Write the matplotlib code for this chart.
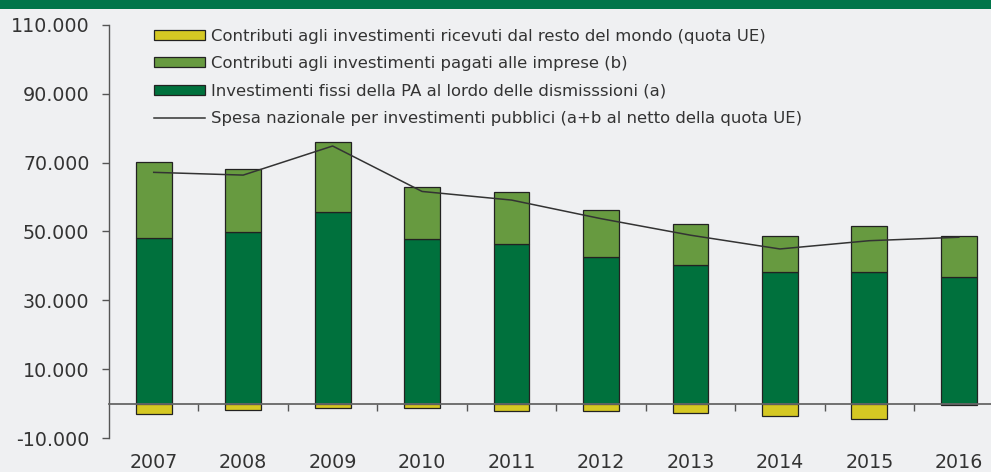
import numpy as np
import matplotlib
matplotlib.use("Agg")
import matplotlib.pyplot as plt
from matplotlib.patches import Rectangle, Patch
from matplotlib.lines import Line2D
import matplotlib.transforms as mtransforms

years = ["2007", "2008", "2009", "2010", "2011", "2012", "2013", "2014", "2015", "2016"]
invest_fissi_a = [48100, 49900, 55500, 47900, 46400, 42600, 40250, 38150, 38200, 36700]
contributi_imprese_b = [22100, 18200, 20500, 15000, 14900, 13700, 12000, 10500, 13450, 11900]
quota_ue = [-3000, -1800, -1200, -1200, -2300, -2300, -2750, -3700, -4500, -300]
spesa_nazionale = [67150, 66350, 74800, 61600, 59100, 53700, 48900, 44900, 47300, 48300]

labels = [
    "Contributi agli investimenti ricevuti dal resto del mondo (quota UE)",
    "Contributi agli investimenti pagati alle imprese (b)",
    "Investimenti fissi della PA al lordo delle dismisssioni (a)",
    "Spesa nazionale per investimenti pubblici (a+b al netto della quota UE)",
]

bg = "#EFF0F2"
c_dark = "#00713D"
c_mid = "#679A40"
c_yel = "#D5C823"
edge = "#222222"

W, H = 991, 472
fig = plt.figure(figsize=(W / 100, H / 100), dpi=100, facecolor=bg)
# banda verde in alto
fig.patches.append(Rectangle((0, 1 - 9 / H), 1, 9 / H, transform=fig.transFigure,
                             facecolor="#00754A", edgecolor="none"))

ax = fig.add_axes([109 / W, (H - 438) / H, 1 - 109 / W, (438 - 24.8) / H])
ax.set_facecolor(bg)

x = np.arange(len(years))
w = 0.4
ax.bar(x, invest_fissi_a, w, color=c_dark, edgecolor=edge, linewidth=0.9, zorder=2)
ax.bar(x, contributi_imprese_b, w, bottom=invest_fissi_a, color=c_mid, edgecolor=edge,
       linewidth=0.9, zorder=2)
ax.bar(x, quota_ue, w, color=c_yel, edgecolor=edge, linewidth=0.9, zorder=2)
ax.plot(x, spesa_nazionale, color="#333333", linewidth=1.1, zorder=3)

ax.set_xlim(-0.5, 9 + (W - 958.8) / 89.46)
ax.set_ylim(-10000, 110000)

for s in ["top", "right"]:
    ax.spines[s].set_visible(False)
ax.spines["left"].set_color("#555555")
ax.spines["left"].set_linewidth(1.0)
ax.spines["bottom"].set_position(("data", 0))
ax.spines["bottom"].set_color("#666666")
ax.spines["bottom"].set_linewidth(1.3)
ax.spines["bottom"].set_zorder(4)

yt = np.arange(-10000, 110001, 20000)
ax.set_yticks(yt)
ax.set_yticklabels([f"{v:,}".replace(",", ".") for v in yt], fontsize=13.7, color="#333333")
ax.tick_params(axis="y", direction="out", length=5, width=1, color="#555555", pad=9)

ax.set_xticks(x[:-1] + 0.5)
ax.set_xticklabels([])
ax.tick_params(axis="x", direction="out", length=5, width=1, color="#555555")

trans = mtransforms.blended_transform_factory(ax.transData, ax.transAxes)
for xi, yr in zip(x, years):
    ax.text(xi, -0.06, yr, transform=trans, ha="center", va="center",
            fontsize=13.7, color="#333333")

handles = [
    Patch(facecolor=c_yel, edgecolor=edge, linewidth=0.9),
    Patch(facecolor=c_mid, edgecolor=edge, linewidth=0.9),
    Patch(facecolor=c_dark, edgecolor=edge, linewidth=0.9),
    Line2D([0], [0], color="#333333", linewidth=1.1),
]
leg = fig.legend(handles, labels, loc="upper left", bbox_to_anchor=(154 / W, 1 - 28.5 / H),
                 bbox_transform=fig.transFigure, frameon=False, borderpad=0,
                 borderaxespad=0, handlelength=3.1, handleheight=0.55, handletextpad=0.35,
                 labelspacing=0.76, prop={"family": "DejaVu Sans", "size": 11.85})
for t in leg.get_texts():
    t.set_color("#333333")

fig.savefig("out.png", dpi=100, facecolor=bg)
